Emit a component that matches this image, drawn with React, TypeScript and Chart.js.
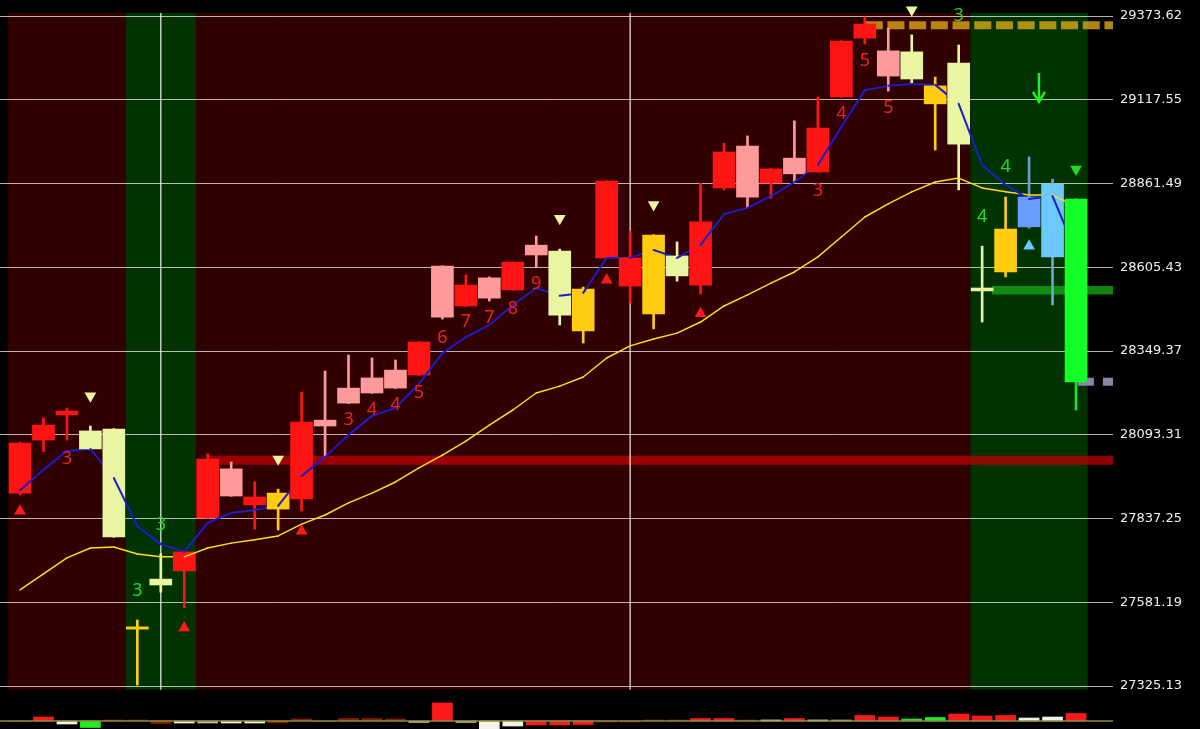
import React, { useEffect, useRef } from 'react';
import { Chart, registerables } from 'chart.js';

Chart.register(...registerables);

// ---------------- DATA ----------------
const candleOpen = [27915, 28077, 28154, 28105, 28111, 27506, 27652, 27677, 27839, 27906, 27879, 27915, 27897, 28120, 28190, 28221, 28236, 28276, 28453, 28487, 28511, 28536, 28643, 28655, 28539, 28634, 28548, 28704, 28640, 28551, 28848, 28820, 28863, 28891, 28897, 29126, 29306, 29190, 29264, 29160, 29230, 28542, 28722, 28820, 28637, 28814];
const candleClose = [28068, 28123, 28166, 28050, 27781, 27499, 27634, 27735, 28019, 27989, 27903, 27866, 28132, 28138, 28236, 28267, 28291, 28377, 28609, 28551, 28573, 28621, 28673, 28459, 28411, 28869, 28634, 28463, 28579, 28744, 28958, 28976, 28906, 28939, 29031, 29297, 29349, 29267, 29181, 29105, 28982, 28533, 28591, 28729, 28860, 28255];
const candleHigh = [28071, 28145, 28175, 28120, 28112, 27527, 27729, 27738, 28035, 28010, 27949, 27927, 28224, 28288, 28337, 28328, 28322, 28378, 28610, 28582, 28576, 28622, 28701, 28661, 28545, 28870, 28716, 28705, 28683, 28863, 28985, 29007, 28907, 29053, 29126, 29298, 29371, 29337, 29316, 29187, 29285, 28670, 28820, 28943, 28875, 28815];
const candleLow = [27909, 28041, 28077, 28049, 27780, 27328, 27612, 27564, 27838, 27905, 27805, 27802, 27860, 28028, 28189, 28220, 28235, 28275, 28447, 28486, 28502, 28535, 28606, 28429, 28374, 28633, 28496, 28417, 28563, 28524, 28842, 28787, 28817, 28866, 28896, 29125, 29288, 29144, 29169, 28964, 28842, 28438, 28576, 28725, 28490, 28169];
const candleKind = ['up', 'up', 'up', 'softDown', 'softDown', 'down', 'softDown', 'up', 'up', 'softUp', 'up', 'down', 'up', 'softUp', 'softUp', 'softUp', 'softUp', 'up', 'softUp', 'up', 'softUp', 'up', 'softUp', 'softDown', 'down', 'up', 'up', 'down', 'softDown', 'up', 'up', 'softUp', 'up', 'softUp', 'up', 'up', 'up', 'softUp', 'softDown', 'down', 'softDown', 'softDown', 'down', 'signalA', 'signalB', 'breakdown'];

const fastLine = [27924, 27986, 28044, 28050, 27961, 27814, 27759, 27735, 27824, 27854, 27863, 27876, 27967, 28025, 28093, 28151, 28175, 28249, 28343, 28392, 28429, 28490, 28542, 28518, 28527, 28634, 28634, 28658, 28634, 28674, 28768, 28787, 28823, 28866, 28918, 29034, 29147, 29160, 29166, 29163, 29105, 28918, 28857, 28814, 28823, 28652];
const slowLine = [27619, 27668, 27717, 27747, 27750, 27729, 27720, 27720, 27747, 27762, 27772, 27784, 27820, 27848, 27885, 27915, 27949, 27992, 28031, 28074, 28123, 28169, 28221, 28242, 28270, 28328, 28365, 28386, 28404, 28438, 28487, 28521, 28557, 28591, 28637, 28698, 28759, 28799, 28836, 28866, 28878, 28848, 28836, 28826, 28826, 28790];

const yTicks = [29373.62, 29117.55, 28861.49, 28605.43, 28349.37, 28093.31, 27837.25, 27581.19, 27325.13];

const oscValues = [0, 40, -30, -65, 10, 10, -25, -20, -20, -20, -20, -20, 20, 0, 25, 25, 20, -15, 180, -15, -85, -50, -40, -40, -35, -10, -10, 10, 10, 25, 25, 10, 10, 25, 10, 10, 55, 40, 20, 35, 70, 50, 55, 30, 40, 75];
const oscKind = ['up', 'up', 'dn', 'grn', 'upDim', 'upDim', 'upDim', 'dn', 'dnDim', 'dn', 'dn', 'upDim', 'upDim', 'upDim', 'upDim', 'upDim', 'upDim', 'dnDim', 'up', 'dnDim', 'dn', 'dn', 'up', 'up', 'up', 'upDim', 'upDim', 'upDim', 'upDim', 'up', 'up', 'upDim', 'dn', 'up', 'dn', 'dnDim', 'up', 'up', 'grn', 'grn', 'up', 'up', 'up', 'dn', 'dn', 'up'];

const sessionStart = [-0.5, 4.5, 7.5, 40.5];
const sessionEnd = [4.5, 7.5, 40.5, 45.5];
const sessionKind = ['bear', 'bull', 'bear', 'bull'];
const sessionTop = 29383;
const sessionBottom = 27314;

const dayBreaks = [6, 26];

const upTriIdx = [0, 7, 12, 25, 29];
const upTriPrice = [27860, 27503, 27799, 28566, 28464];
const downTriIdx = [3, 11, 23, 27, 38];
const downTriPrice = [28212, 28019, 28755, 28797, 29392];
const sellTriIdx = [45];
const sellTriPrice = [28905];
const buyTriIdx = [43];
const buyTriPrice = [28670];

const upCountIdx = [2, 14, 15, 16, 17, 18, 19, 20, 21, 22, 34, 35, 36, 37];
const upCountText = ['3', '3', '4', '4', '5', '6', '7', '7', '8', '9', '3', '4', '5', '5'];
const upCountPrice = [28019, 28138, 28169, 28184, 28221, 28389, 28438, 28450, 28478, 28554, 28839, 29074, 29236, 29092];
const downCountIdx = [5, 6, 40, 41, 42];
const downCountText = ['3', '3', '3', '4', '4'];
const downCountPrice = [27616, 27817, 29374, 28759, 28912];

const arrowIdx = 43.42;
const arrowTop = 29199;
const arrowBottom = 29111;

const resistStart = 8;
const resistPrice = 28015;
const supportStart = 41.42;
const supportPrice = 28535;
const highZoneStart = 36.04;
const highZonePrice = 29345;
const stopStart = 45.08;
const stopPrice = 28255;

// ---------------- STYLE ----------------
const X_MIN = -0.852;
const X_MAX = 46.576;
const Y_MIN = 27193.69;
const Y_MAX = 29422.54;
const OSC_MIN = -80;
const OSC_MAX = 7210;

const CANDLE_COLORS: Record<string, string> = {
  up: '#ff1414',
  softUp: '#ff9a9a',
  softDown: '#e9f5a0',
  down: '#ffcc10',
  signalA: '#6a9cff',
  signalB: '#6cc8ff',
  breakdown: '#14ff28',
};
const WICK_COLORS: Record<string, string> = {
  up: '#ff1414',
  softUp: '#ff9a9a',
  softDown: '#e9f5a0',
  down: '#ffcc10',
  signalA: '#6a9ccc',
  signalB: '#66aacc',
  breakdown: '#22dd33',
};
const OSC_COLORS: Record<string, string> = {
  up: '#ff1a1a',
  upDim: '#8a1a00',
  dn: '#f2f2e6',
  dnDim: '#bdbda5',
  grn: '#22ee22',
};
const SESSION_COLORS: Record<string, string> = {
  bear: '#310000',
  bull: '#003300',
};

const span = (start: number, price: number) => [
  { x: start, y: price },
  { x: X_MAX, y: price },
];

const bgPlugin = {
  id: 'sessionBg',
  beforeDraw(chart: any) {
    const { ctx, scales } = chart;
    const x = scales.x;
    const y = scales.y;
    ctx.save();
    ctx.fillStyle = '#000';
    ctx.fillRect(0, 0, chart.width, chart.height);
    const top = y.getPixelForValue(sessionTop);
    const bot = y.getPixelForValue(sessionBottom);
    for (let k = 0; k < sessionStart.length; k++) {
      const x0 = x.getPixelForValue(sessionStart[k]);
      const x1 = x.getPixelForValue(sessionEnd[k]);
      ctx.fillStyle = SESSION_COLORS[sessionKind[k]];
      ctx.fillRect(x0, top, x1 - x0, bot - top);
    }
    ctx.restore();
  },
};

const interleavePlugin = {
  id: 'interleave',
  beforeDatasetDraw(chart: any, args: any) {
    const datasets = chart.data.datasets as any[];
    const ds = datasets[args.index];
    if (ds.role === 'wick') {
      const ctx = chart.ctx;
      const idxOf = (r: string) => datasets.findIndex((d) => d.role === r);
      const wick = chart.getDatasetMeta(idxOf('wick'));
      const body = chart.getDatasetMeta(idxOf('body'));
      const lines = [idxOf('maSlow'), idxOf('maFast')];
      const n = wick.data.length;
      ctx.save();
      for (let i = 0; i < n; i++) {
        wick.data[i].draw(ctx);
        body.data[i].draw(ctx);
        for (const li of lines) {
          const m = chart.getDatasetMeta(li);
          const d = datasets[li];
          if (i + 1 < m.data.length) {
            const p0 = m.data[i];
            const p1 = m.data[i + 1];
            ctx.beginPath();
            ctx.strokeStyle = d.borderColor;
            ctx.lineWidth = d.borderWidth;
            ctx.lineCap = 'round';
            ctx.moveTo(p0.x, p0.y);
            ctx.lineTo(p1.x, p1.y);
            ctx.stroke();
          }
        }
      }
      ctx.restore();
      return false;
    }
    if (ds.role === 'body' || ds.role === 'maSlow' || ds.role === 'maFast') return false;
    return true;
  },
};

const annotPlugin = {
  id: 'annot',
  afterDatasetsDraw(chart: any) {
    const { ctx, scales } = chart;
    const x = scales.x;
    const y = scales.y;
    ctx.save();
    ctx.font = '18px "Noto Sans"';
    ctx.textAlign = 'center';
    ctx.textBaseline = 'middle';
    ctx.fillStyle = '#ee2020';
    upCountIdx.forEach((ix, k) => {
      ctx.fillText(upCountText[k], x.getPixelForValue(ix), y.getPixelForValue(upCountPrice[k]));
    });
    ctx.fillStyle = '#22dd22';
    downCountIdx.forEach((ix, k) => {
      ctx.fillText(downCountText[k], x.getPixelForValue(ix), y.getPixelForValue(downCountPrice[k]));
    });
    const ax = x.getPixelForValue(arrowIdx);
    const ay0 = y.getPixelForValue(arrowTop);
    const ay1 = y.getPixelForValue(arrowBottom);
    ctx.strokeStyle = '#22ee22';
    ctx.lineWidth = 2.5;
    ctx.lineCap = 'butt';
    ctx.beginPath();
    ctx.moveTo(ax, ay0);
    ctx.lineTo(ax, ay1);
    ctx.moveTo(ax - 6, ay1 - 10);
    ctx.lineTo(ax, ay1);
    ctx.lineTo(ax + 6, ay1 - 10);
    ctx.stroke();
    ctx.restore();
  },
};

export default function App() {
  const ref = useRef<HTMLCanvasElement>(null);
  useEffect(() => {
    const n = candleOpen.length;
    const idx = Array.from({ length: n }, (_, i) => i);
    const chart = new Chart(ref.current as HTMLCanvasElement, {
      type: 'line',
      data: {
        datasets: [
          {
            type: 'bar',
            role: 'osc',
            yAxisID: 'yv',
            data: oscValues.map((v, i) => ({ x: i, y: v })),
            backgroundColor: oscKind.map((k) => OSC_COLORS[k]),
            barThickness: 20,
            grouped: false,
            borderWidth: 0,
            order: 20,
          } as any,
          {
            type: 'line',
            yAxisID: 'yv',
            data: [
              { x: X_MIN, y: 0 },
              { x: X_MAX, y: 0 },
            ],
            borderColor: '#8c8c3c',
            borderWidth: 1.5,
            pointRadius: 0,
            order: 19,
          } as any,
          {
            type: 'line',
            data: span(resistStart, resistPrice),
            borderColor: 'rgba(190,0,0,0.75)',
            borderWidth: 9,
            borderCapStyle: 'butt',
            pointRadius: 0,
            clip: 0,
            order: 15,
          } as any,
          {
            type: 'line',
            data: span(supportStart, supportPrice),
            borderColor: 'rgba(20,160,20,0.82)',
            borderWidth: 8.5,
            borderCapStyle: 'butt',
            pointRadius: 0,
            clip: 0,
            order: 14,
          } as any,
          {
            type: 'line',
            data: span(highZoneStart, highZonePrice),
            borderColor: 'rgba(235,180,20,0.74)',
            borderWidth: 8,
            borderDash: [17, 4.7],
            borderCapStyle: 'butt',
            pointRadius: 0,
            clip: 0,
            order: 13,
          } as any,
          {
            type: 'line',
            data: span(stopStart, stopPrice),
            borderColor: '#8686aa',
            borderWidth: 8,
            borderDash: [16, 9],
            borderCapStyle: 'butt',
            pointRadius: 0,
            clip: 0,
            order: 12,
          } as any,
          ...dayBreaks.map(
            (b) =>
              ({
                type: 'line',
                data: [
                  { x: b, y: sessionTop },
                  { x: b, y: sessionBottom },
                ],
                borderColor: 'rgba(255,255,255,0.5)',
                borderWidth: 1,
                pointRadius: 0,
                order: 11,
              } as any)
          ),
          {
            type: 'bar',
            role: 'wick',
            data: idx.map((i) => ({ x: i, y: [candleLow[i], candleHigh[i]] })),
            backgroundColor: candleKind.map((k) => WICK_COLORS[k]),
            barThickness: 2,
            grouped: false,
            borderWidth: 0,
            order: 5,
          } as any,
          {
            type: 'bar',
            role: 'body',
            data: idx.map((i) => ({ x: i, y: [candleOpen[i], candleClose[i]] })),
            backgroundColor: candleKind.map((k) => CANDLE_COLORS[k]),
            barThickness: 22,
            grouped: false,
            borderWidth: 0,
            order: 6,
          } as any,
          {
            type: 'line',
            role: 'maFast',
            data: idx.map((i) => ({ x: i, y: fastLine[i] })),
            borderColor: '#1c1cc8',
            borderWidth: 2,
            pointRadius: 0,
            order: 7,
          } as any,
          {
            type: 'line',
            role: 'maSlow',
            data: idx.map((i) => ({ x: i, y: slowLine[i] })),
            borderColor: '#ffdf1a',
            borderWidth: 1.5,
            pointRadius: 0,
            order: 8,
          } as any,
          {
            type: 'line',
            showLine: false,
            data: upTriIdx.map((ix, k) => ({ x: ix, y: upTriPrice[k] })),
            pointStyle: 'triangle',
            pointRadius: 6.8,
            pointBackgroundColor: '#ff1a1a',
            pointBorderWidth: 0,
            order: 2,
          } as any,
          {
            type: 'line',
            showLine: false,
            data: downTriIdx.map((ix, k) => ({ x: ix, y: downTriPrice[k] })),
            pointStyle: 'triangle',
            pointRotation: 180,
            pointRadius: 6.8,
            pointBackgroundColor: '#eef5a0',
            pointBorderWidth: 0,
            order: 2,
          } as any,
          {
            type: 'line',
            showLine: false,
            data: sellTriIdx.map((ix, k) => ({ x: ix, y: sellTriPrice[k] })),
            pointStyle: 'triangle',
            pointRotation: 180,
            pointRadius: 6.8,
            pointBackgroundColor: '#22dd22',
            pointBorderWidth: 0,
            order: 2,
          } as any,
          {
            type: 'line',
            showLine: false,
            data: buyTriIdx.map((ix, k) => ({ x: ix, y: buyTriPrice[k] })),
            pointStyle: 'triangle',
            pointRadius: 6.8,
            pointBackgroundColor: '#66ccff',
            pointBorderWidth: 0,
            order: 2,
          } as any,
        ],
      },
      options: {
        responsive: false,
        devicePixelRatio: 1,
        animation: false,
        events: [],
        layout: { padding: 0, autoPadding: false },
        plugins: {
          legend: { display: false },
          tooltip: { enabled: false },
          title: { display: false },
        },
        scales: {
          x: {
            type: 'linear',
            min: X_MIN,
            max: X_MAX,
            offset: false,
            display: false,
          },
          y: {
            type: 'linear',
            position: 'right',
            min: Y_MIN,
            max: Y_MAX,
            border: { display: false },
            grid: { color: 'rgba(255,255,255,0.7)', lineWidth: 1, drawTicks: false },
            ticks: {
              color: '#f0f0f0',
              font: { family: '"DejaVu Sans"', size: 13 },
              padding: 7,
              autoSkip: false,
              callback: (v: any) => Number(v).toFixed(2),
            },
            afterBuildTicks: (s: any) => {
              s.ticks = yTicks.map((v) => ({ value: v }));
            },
            afterFit: (s: any) => {
              s.width = 87;
              s.paddingTop = 0;
              s.paddingBottom = 0;
            },
          },
          yv: {
            type: 'linear',
            display: false,
            min: OSC_MIN,
            max: OSC_MAX,
          },
        },
      } as any,
      plugins: [bgPlugin, interleavePlugin, annotPlugin],
    } as any);
    return () => chart.destroy();
  }, []);
  return (
    <div style={{ position: 'fixed', left: 0, top: 0, width: 1200, height: 729, background: '#000' }}>
      <canvas ref={ref} width={1200} height={729} style={{ display: 'block', width: 1200, height: 729 }} />
    </div>
  );
}
